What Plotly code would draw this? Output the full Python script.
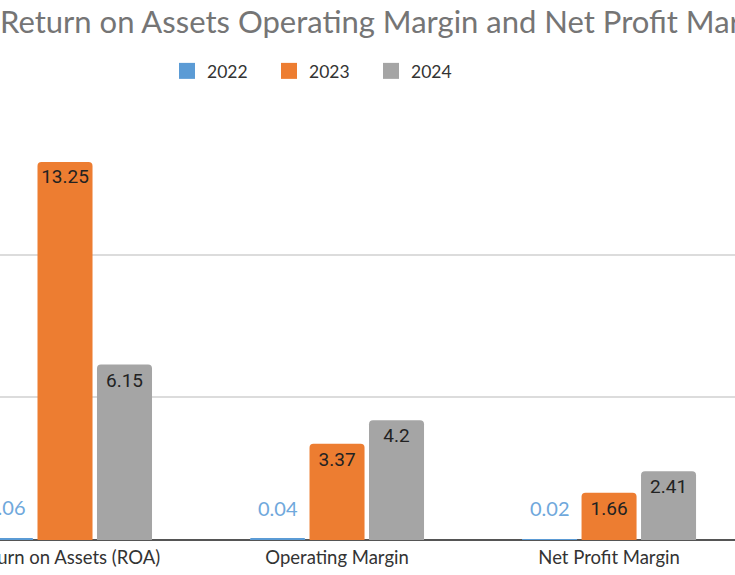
import plotly.graph_objects as go

categories = ["Return on Assets (ROA)", "Operating Margin", "Net Profit Margin"]
years = ["2022", "2023", "2024"]
values_2022 = [0.06, 0.04, 0.02]
values_2023 = [13.25, 3.37, 1.66]
values_2024 = [6.15, 4.2, 2.41]
title_text = "Return on Assets Operating Margin and Net Profit Margin"

colors = {"2022": "#5B9BD5", "2023": "#ED7D31", "2024": "#A5A5A5"}
series = {"2022": values_2022, "2023": values_2023, "2024": values_2024}

W, H = 735, 575
fig = go.Figure()
for yr in years:
    vals = series[yr]
    show_inside = yr != "2022"
    fig.add_trace(go.Bar(
        x=categories, y=vals, name=yr, showlegend=False,
        marker=dict(color=colors[yr], cornerradius=4, line=dict(width=0)),
        text=[str(v) for v in vals] if show_inside else None,
        textposition="inside" if show_inside else "none",
        insidetextanchor="end",
        textfont=dict(family="Roboto", size=19, color="#222222"),
        constraintext="none",
    ))
    # legend proxy with larger square swatch
    fig.add_trace(go.Scatter(
        x=[None], y=[None], mode="markers", name=yr,
        marker=dict(symbol="square", size=16, color=colors[yr]),
    ))

# 2022 value labels above the tiny bars
pitch = 272 * (1 - 0.344) / 3
for cat, v in zip(categories, values_2022):
    fig.add_annotation(
        x=cat, y=v, xref="x", yref="y", text=str(v), showarrow=False,
        xshift=-pitch, yshift=31, yanchor="middle",
        font=dict(family="Lato", size=20, color="#6FA8DC"),
    )

fig.update_layout(
    width=W, height=H,
    margin=dict(l=0, r=0, t=112, b=35, autoexpand=False),
    paper_bgcolor="white", plot_bgcolor="white",
    barmode="group", bargap=0.344, bargroupgap=0.075,
    title=dict(text=title_text, x=0, xanchor="left", xref="paper",
               y=1 - 22 / H, yanchor="middle",
               font=dict(family="Lato", size=31, color="#757575")),
    legend=dict(orientation="h", x=(194 - 27) / W, xanchor="left", y=(540 - 71) / 428,
                yanchor="middle", font=dict(family="Lato", size=17.5, color="#333333"),
                itemclick=False, entrywidth=57, entrywidthmode="pixels"),
    font=dict(family="Lato"),
    showlegend=True,
)
fig.update_xaxes(type="category", range=[-0.239, 2.463], showgrid=False,
                 showline=False, ticks="", ticklabelstandoff=4,
                 tickfont=dict(family="Lato", size=18.5, color="#333333"),
                 automargin=False)
fig.update_yaxes(range=[0, 15], dtick=5, showticklabels=False, gridcolor="#DCDCDC",
                 gridwidth=1.5, zeroline=True, zerolinecolor="#555555", zerolinewidth=1.5,
                 automargin=False)

fig.write_html("out.html", config={"displayModeBar": False},
               post_script="document.body.style.margin='0';")
